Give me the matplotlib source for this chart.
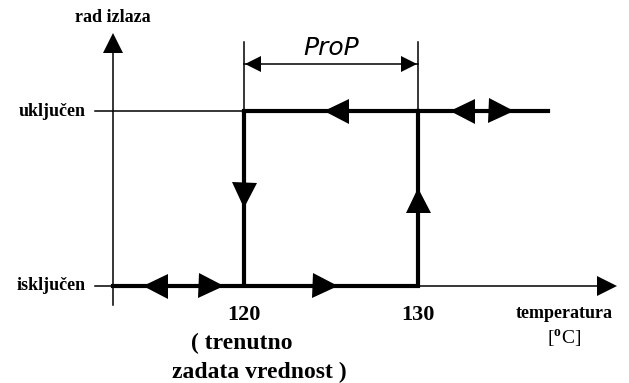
import matplotlib.pyplot as plt

plt.rcParams["font.family"] = ["Liberation Serif", "DejaVu Serif"]
plt.rcParams["mathtext.fontset"] = "custom"
plt.rcParams["mathtext.rm"] = "Liberation Serif"
plt.rcParams["mathtext.bf"] = "Liberation Serif:bold"

# temperature points (deg C) and output states
setpoint = 120
upper = 130
state_off = 0
state_on = 1
state_labels = ["isključen", "uključen"]
tick_labels = ["120", "130"]

# hysteresis path (thick)
path_x = [112.47, upper, upper, 137.47]
path_y = [state_off, state_off, state_on, state_on]
drop_x = [setpoint, setpoint]
drop_y = [state_on, state_off]

# arrow markers along the path: (temperature, state, direction)
arrows = [
    (114.91, state_off, "<"),
    (118.10, state_off, ">"),
    (124.66, state_off, ">"),
    (setpoint, 0.52, "v"),
    (upper, 0.49, "^"),
    (125.29, state_on, "<"),
    (132.53, state_on, "<"),
    (134.77, state_on, ">"),
]

# pixel -> data layout (axes fills the figure)
PX_PER_DEG = 17.4
PX_PER_STATE = 175.0
X0_PX, Y0_PX = 244, 286


def tx(px):
    return setpoint + (px - X0_PX) / PX_PER_DEG


def ty(py):
    return (Y0_PX - py) / PX_PER_STATE


fig = plt.figure(figsize=(6.29, 3.83), dpi=100)
ax = fig.add_axes([0, 0, 1, 1])
ax.set_xlim(tx(0), tx(629))
ax.set_ylim(ty(383), ty(0))
ax.axis("off")

thin = 1.1
thick = 3.0
serif = "Liberation Serif"

# axes of the diagram
axis_x = tx(113)
ax.plot([axis_x, axis_x], [ty(305), ty(45)], color="black", lw=thin)
ax.plot([axis_x], [ty(43)], marker="^", color="black", markersize=14, markeredgewidth=0)
ax.plot([tx(95), tx(605)], [state_off, state_off], color="black", lw=thin)
ax.plot([tx(607)], [state_off], marker=">", color="black", markersize=14, markeredgewidth=0)
ax.plot([tx(95), setpoint], [state_on, state_on], color="black", lw=thin)

# band marks and dimension line
for t in (setpoint, upper):
    ax.plot([t, t], [state_on, ty(42)], color="black", lw=thin)
ax.plot([setpoint, upper], [ty(64), ty(64)], color="black", lw=thin)
ax.plot([tx(253)], [ty(64)], marker="<", color="black", markersize=12, markeredgewidth=0)
ax.plot([tx(409)], [ty(64)], marker=">", color="black", markersize=12, markeredgewidth=0)
ax.text((setpoint + upper) / 2, ty(48), "ProP", ha="center", va="center",
        fontsize=18, style="italic", family="DejaVu Sans", fontweight="light")

# thick path
ax.plot(path_x, path_y, color="black", lw=thick, solid_joinstyle="miter")
ax.plot(drop_x, drop_y, color="black", lw=thick, solid_capstyle="butt")
ax.plot([setpoint, upper], [state_on, state_on], color="black", lw=thick,
        solid_capstyle="projecting")
for t, s, m in arrows:
    ax.plot([t], [s], marker=m, color="black", markersize=18, markeredgewidth=0)

# labels
ax.text(axis_x, ty(18), "rad izlaza", ha="center", va="center",
        fontsize=13, fontweight="bold", family=serif)
for s, lab in zip([state_off, state_on], state_labels):
    ax.text(tx(86), s, lab, ha="right", va="center", fontsize=13,
            fontweight="bold", family=serif)
for t, lab in zip([setpoint, upper], tick_labels):
    ax.text(t, ty(315), lab, ha="center", va="center", fontsize=16,
            fontweight="bold", family=serif)
ax.text(tx(242), ty(343), "( trenutno", ha="center", va="center",
        fontsize=17, fontweight="bold", family=serif)
ax.text(tx(259), ty(372), "zadata vrednost )", ha="center", va="center",
        fontsize=17, fontweight="bold", family=serif)
ax.text(tx(564), ty(314), "temperatura", ha="center", va="center",
        fontsize=13, fontweight="bold", family=serif)
ax.text(tx(564), ty(339), r"[$^{\mathbf{o}}$C]", ha="center", va="center",
        fontsize=14, family=serif)

fig.savefig("out.png", dpi=100)
